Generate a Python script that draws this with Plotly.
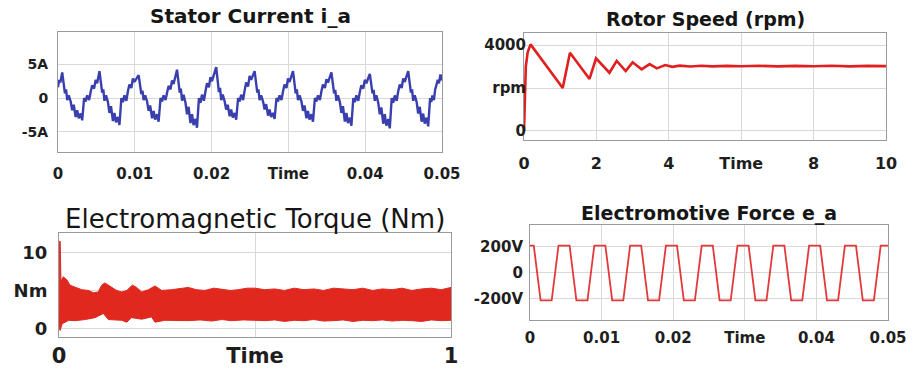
import plotly.graph_objects as go

W, H = 913, 372

# ---------------- data ----------------
# Stator current i_a (time in ms, current in A)
ia_t_ms = [
    0, 0.15, 0.30, 0.55, 0.90, 1.05, 1.20, 1.40, 1.65, 1.85, 2.05, 2.30, 2.50, 2.70, 2.95, 3.15, 3.40, 3.60, 3.80, 4.05, 4.25, 4.45, 4.70, 4.90, 5.10,
    5.40, 5.75, 5.90, 6.05, 6.25, 6.50, 6.70, 6.90, 7.15, 7.35, 7.55, 7.80, 8.00, 8.25, 8.45, 8.65, 8.90, 9.10, 9.30, 9.55, 9.75, 9.95,
    10.50, 10.85, 11.00, 11.15, 11.35, 11.60, 11.80, 12.00, 12.25, 12.45, 12.65, 12.90, 13.10, 13.35, 13.55, 13.75, 14.00, 14.20, 14.40, 14.65, 14.85, 15.05,
    15.50, 15.85, 16.00, 16.15, 16.35, 16.60, 16.80, 17.00, 17.25, 17.45, 17.65, 17.90, 18.10, 18.35, 18.55, 18.75, 19.00, 19.20, 19.40, 19.65, 19.85, 20.05,
    20.60, 20.95, 21.10, 21.25, 21.45, 21.70, 21.90, 22.10, 22.35, 22.55, 22.75, 23.00, 23.20, 23.45, 23.65, 23.85, 24.10, 24.30, 24.50, 24.75, 24.95, 25.15,
    25.60, 25.95, 26.10, 26.25, 26.45, 26.70, 26.90, 27.10, 27.35, 27.55, 27.75, 28.00, 28.20, 28.45, 28.65, 28.85, 29.10, 29.30, 29.50, 29.75, 29.95, 30.15,
    30.60, 30.95, 31.10, 31.25, 31.45, 31.70, 31.90, 32.10, 32.35, 32.55, 32.75, 33.00, 33.20, 33.45, 33.65, 33.85, 34.10, 34.30, 34.50, 34.75, 34.95, 35.15,
    35.60, 35.95, 36.10, 36.25, 36.45, 36.70, 36.90, 37.10, 37.35, 37.55, 37.75, 38.00, 38.20, 38.45, 38.65, 38.85, 39.10, 39.30, 39.50, 39.75, 39.95, 40.15,
    40.60, 40.95, 41.10, 41.25, 41.45, 41.70, 41.90, 42.10, 42.35, 42.55, 42.75, 43.00, 43.20, 43.45, 43.65, 43.85, 44.10, 44.30, 44.50, 44.75, 44.95, 45.15,
    45.60, 45.95, 46.10, 46.25, 46.45, 46.70, 46.90, 47.10, 47.35, 47.55, 47.75, 48.00, 48.20, 48.45, 48.60, 48.75, 48.95, 49.10, 49.25, 49.45, 49.60, 49.80, 50.00,
]
ia_amp = [
    1.6, 2.7, 2.3, 3.8, 0.7, 1.3, -0.3, 0.4, -0.5, -1.8, -1.0, -2.8, -1.8, -3.0, -2.3, -3.3, 0.0, -0.5, 0.4, -0.3, 0.9, 1.9, 1.4, 2.7, 2.2,
    4.0, 0.8, 1.3, -0.4, 0.4, -0.6, -2.2, -1.2, -3.4, -2.2, -3.6, -2.8, -4.0, 0.0, -0.6, 0.4, -0.4, 1.0, 2.0, 1.5, 2.9, 2.4,
    3.4, 0.6, 1.1, -0.3, 0.4, -0.5, -1.9, -1.1, -3.0, -1.9, -3.2, -2.4, -3.5, 0.0, -0.5, 0.4, -0.3, 0.8, 1.8, 1.3, 2.6, 2.1,
    4.2, 0.8, 1.4, -0.4, 0.5, -0.7, -2.4, -1.3, -3.7, -2.4, -4.0, -3.1, -4.4, 0.0, -0.7, 0.5, -0.4, 1.0, 2.2, 1.6, 3.1, 2.5,
    4.6, 0.9, 1.5, -0.3, 0.5, -0.5, -1.7, -1.0, -2.7, -1.7, -2.9, -2.2, -3.2, 0.0, -0.5, 0.5, -0.3, 1.1, 2.3, 1.7, 3.3, 2.7,
    4.0, 0.8, 1.3, -0.3, 0.4, -0.5, -1.7, -0.9, -2.6, -1.7, -2.8, -2.2, -3.1, 0.0, -0.5, 0.4, -0.3, 1.0, 2.0, 1.5, 2.9, 2.4,
    4.0, 0.7, 1.3, -0.3, 0.4, -0.5, -1.9, -1.1, -3.0, -1.9, -3.2, -2.4, -3.5, 0.0, -0.5, 0.4, -0.3, 1.0, 2.0, 1.5, 2.8, 2.3,
    3.8, 0.7, 1.2, -0.4, 0.4, -0.6, -2.2, -1.2, -3.5, -2.2, -3.7, -2.9, -4.1, 0.0, -0.6, 0.4, -0.4, 0.9, 1.9, 1.4, 2.7, 2.2,
    3.6, 0.7, 1.2, -0.4, 0.4, -0.7, -2.4, -1.4, -3.8, -2.4, -4.1, -3.1, -4.5, 0.0, -0.7, 0.4, -0.4, 1.0, 2.0, 1.5, 2.9, 2.4,
    4.0, 0.8, 1.3, -0.4, 0.4, -0.6, -2.3, -1.3, -3.5, -2.3, -3.8, -2.9, -4.2, 0.0, -0.6, 0.4, -0.3, 1.2, 2.0, 2.7, 2.2, 3.5, 2.6,
]

# Rotor speed (s, rpm)
speed_t = [0, 0.02, 0.05, 0.10, 0.18, 1.07, 1.27, 1.81, 1.99, 2.36, 2.56, 2.81, 3.00, 3.25, 3.47, 3.67, 3.90,
           4.10, 4.30, 4.60, 4.90, 5.20, 5.60, 6.00, 6.50, 7.00, 7.50, 8.00, 8.50, 9.00, 9.50, 10.0]
speed_rpm = [0, 2000, 3000, 3650, 4030, 2000, 3640, 2420, 3380, 2710, 3260, 2790, 3195, 2870, 3115, 2915, 3070,
             2985, 3040, 3000, 3035, 3005, 3030, 3010, 3035, 3005, 3030, 3010, 3035, 3005, 3030, 3020]

# Electromagnetic torque band envelope (s, Nm)
tq_upper_t = [0, 0.001, 0.003, 0.005, 0.011, 0.020, 0.028, 0.041, 0.058, 0.075, 0.088, 0.100,
              0.109, 0.117, 0.130, 0.147, 0.160, 0.173, 0.187, 0.198, 0.211, 0.228, 0.245, 0.262,
              0.287, 0.31, 0.33, 0.35, 0.372, 0.395, 0.415, 0.437, 0.457, 0.48, 0.5,
              0.525, 0.55, 0.575, 0.6, 0.625, 0.65, 0.675, 0.7, 0.725, 0.75, 0.775, 0.8, 0.825,
              0.85, 0.875, 0.9, 0.925, 0.95, 0.975, 1.0]
tq_upper = [0.5, 11.5, 11.5, 6.2, 6.8, 6.4, 5.7, 5.4, 5.1, 5.0, 4.7, 4.8,
            5.7, 6.0, 5.6, 5.0, 4.8, 5.0, 5.7, 5.4, 4.8, 5.1, 5.6, 5.0,
            5.1, 5.3, 5.4, 5.1, 5.0, 5.3, 5.2, 5.0, 5.1, 5.3, 5.3,
            5.1, 5.2, 5.0, 5.3, 5.1, 5.2, 5.0, 5.3, 5.2, 5.1, 5.3, 5.0, 5.2,
            5.1, 5.3, 5.0, 5.2, 5.3, 5.1, 5.4]
tq_lower_t = [0, 0.001, 0.003, 0.006, 0.008, 0.025, 0.041, 0.067, 0.092, 0.113, 0.126,
              0.16, 0.173, 0.185, 0.211, 0.236, 0.245, 0.27, 0.3, 0.33, 0.36, 0.39, 0.415,
              0.44, 0.47, 0.5, 0.525, 0.55, 0.575, 0.6, 0.625, 0.65, 0.675, 0.7, 0.725, 0.75,
              0.775, 0.8, 0.825, 0.85, 0.875, 0.9, 0.925, 0.95, 0.975, 1.0]
tq_lower = [0.5, 0.0, -0.3, 0.3, 0.6, 1.05, 1.0, 1.15, 1.4, 1.95, 1.15,
            1.05, 0.8, 1.4, 1.2, 1.5, 0.8, 1.05, 1.0, 1.0, 1.1, 0.95, 1.15,
            1.0, 1.1, 1.05, 1.0, 1.1, 0.9, 1.05, 1.0, 1.15, 0.95, 1.0, 1.1, 0.9,
            1.05, 1.0, 1.1, 0.95, 1.05, 1.0, 0.9, 1.1, 1.0, 1.05]

# Electromotive force e_a (ms, V)
emf_t_ms = [0, 0.53, 1.48, 3.03, 3.98, 5.53, 6.48, 8.03, 8.98, 10.53, 11.48, 13.03, 13.98, 15.53,
            16.48, 18.03, 18.98, 20.53, 21.48, 23.03, 23.98, 25.53, 26.48, 28.03, 28.98, 30.53,
            31.48, 33.03, 33.98, 35.53, 36.48, 38.03, 38.98, 40.53, 41.48, 43.03, 43.98, 45.53,
            46.48, 48.03, 48.98, 50.0]
emf_v = [210, 210, -213, -213, 210, 210, -213, -213, 210, 210, -213, -213, 210, 210,
         -213, -213, 210, 210, -213, -213, 210, 210, -213, -213, 210, 210,
         -213, -213, 210, 210, -213, -213, 210, 210, -213, -213, 210, 210,
         -213, -213, 210, 210]

# tick labels
t005_vals = [0, 0.01, 0.02, 0.03, 0.04, 0.05]
t005_text = ["0", "0.01", "0.02", "Time", "0.04", "0.05"]
ia_vals, ia_text = [-5, 0, 5], ["-5A", "0", "5A"]
sp_xvals, sp_xtext = [0, 2, 4, 6, 8, 10], ["0", "2", "4", "Time", "8", "10"]
sp_yvals, sp_ytext = [0, 2000, 4000], ["0", "rpm", "4000"]
tq_xvals, tq_xtext = [0, 0.5, 1], ["0", "Time", "1"]
tq_yvals, tq_ytext = [0, 5, 10], ["0", "Nm", "10"]
emf_yvals, emf_ytext = [-200, 0, 200], ["-200V", "0", "200V"]

titles = ["Stator Current i_a", "Rotor Speed (rpm)", "Electromagnetic Torque (Nm)", "Electromotive Force e_a"]

# ---------------- figure ----------------
fig = go.Figure()

fig.add_trace(go.Scatter(x=[t / 1000 for t in ia_t_ms], y=ia_amp, mode="lines",
                         line=dict(color="#3a3fae", width=2.4), xaxis="x", yaxis="y"))
fig.add_trace(go.Scatter(x=speed_t, y=speed_rpm, mode="lines",
                         line=dict(color="#e01f1f", width=2.6), xaxis="x2", yaxis="y2"))
fig.add_trace(go.Scatter(x=tq_upper_t + tq_lower_t[::-1], y=tq_upper + tq_lower[::-1],
                         mode="lines", fill="toself", fillcolor="#e0281f",
                         line=dict(color="#e0281f", width=1), xaxis="x3", yaxis="y3"))
fig.add_trace(go.Scatter(x=[t / 1000 for t in emf_t_ms], y=emf_v, mode="lines",
                         line=dict(color="#e23a3a", width=1.8), xaxis="x4", yaxis="y4"))

def px_x(a, b):
    return [a / W, b / W]

def px_y(top, bottom):
    return [1 - bottom / H, 1 - top / H]

FONT = "DejaVu Sans"

def ax(domain, rng, vals, text, anchor, size, standoff):
    return dict(domain=domain, range=rng, anchor=anchor, tickvals=vals, ticktext=text,
                showgrid=True, gridcolor="#d9d9d9", gridwidth=1, zeroline=False,
                showline=True, linecolor="#9a9a9a", linewidth=1, mirror=True,
                ticks="", ticklabelstandoff=standoff, automargin=False,
                tickfont=dict(family=FONT, size=size, color="#1e1e1e", weight="bold"))

# plot area rectangles (pixels)
r1 = (58, 442, 32, 152)
r2 = (524, 886, 33, 140)
r3 = (59, 451, 233, 337)
r4 = (530, 888, 225, 320)

fig.update_layout(
    width=W, height=H, margin=dict(l=0, r=0, t=0, b=0),
    paper_bgcolor="white", plot_bgcolor="white", showlegend=False,
    xaxis=ax(px_x(r1[0], r1[1]), [0, 0.05], t005_vals, t005_text, "y", 15, 8),
    yaxis=ax(px_y(r1[2], r1[3]), [-8, 9.8], ia_vals, ia_text, "x", 14, 6),
    xaxis2=ax(px_x(r2[0], r2[1]), [0, 10], sp_xvals, sp_xtext, "y2", 16, 9),
    yaxis2=ax(px_y(r2[2], r2[3]), [-420, 4560], sp_yvals, sp_ytext, "x2", 15, -6),
    xaxis3=ax(px_x(r3[0], r3[1]), [0, 1], tq_xvals, tq_xtext, "y3", 21, 0),
    yaxis3=ax(px_y(r3[2], r3[3]), [-1.16, 12.6], tq_yvals, tq_ytext, "x3", 18, 7),
    xaxis4=ax(px_x(r4[0], r4[1]), [0, 0.05], t005_vals, t005_text, "y4", 15, 4),
    yaxis4=ax(px_y(r4[2], r4[3]), [-365, 370], emf_yvals, emf_ytext, "x4", 15, 3),
)

title_specs = [
    (titles[0], (r1[0] + r1[1]) / 2, 16, 20, "bold"),
    (titles[1], (r2[0] + r2[1]) / 2, 19, 19, "bold"),
    (titles[2], (r3[0] + r3[1]) / 2, 219, 26, "normal"),
    (titles[3], (r4[0] + r4[1]) / 2, 213, 19, "bold"),
]
for txt, cx, cy, size, weight in title_specs:
    fig.add_annotation(text=txt, x=cx / W, y=1 - cy / H, xref="paper", yref="paper",
                       xanchor="center", yanchor="middle", showarrow=False,
                       font=dict(family=FONT, size=size, color="#161616", weight=weight))

fig.write_html("out.html", config={"displayModeBar": False},
               post_script="document.body.style.margin='0';document.body.style.overflow='hidden';")
